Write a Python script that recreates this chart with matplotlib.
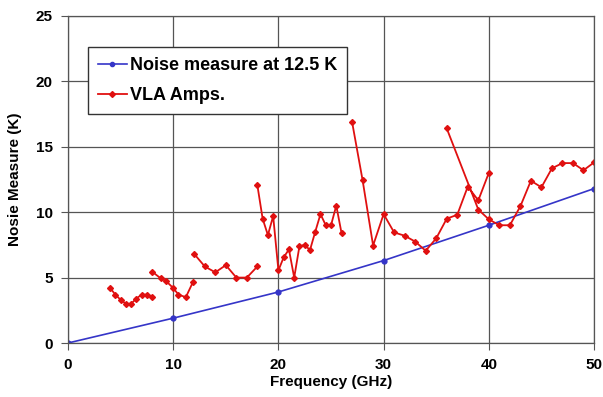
import matplotlib
matplotlib.use("Agg")
import matplotlib.pyplot as plt
import numpy as np

plt.rcParams['font.family'] = ['Liberation Sans', 'DejaVu Sans']
plt.rcParams['font.weight'] = 'bold'

# noise measure at 12.5 K
f_noise = [0, 10, 20, 30, 40, 50]
t_noise = [0, 1.9, 3.9, 6.3, 9.0, 11.8]

# VLA amplifiers, one list per band (gaps between bands)
f_bands = [
    [4.0, 4.5, 5.0, 5.5, 6.0, 6.5, 7.0, 7.5, 8.0],
    [8.0, 8.8, 9.3, 10.0, 10.5, 11.2, 11.9],
    [12.0, 13.0, 14.0, 15.0, 16.0, 17.0, 18.0],
    [18.0, 18.5, 19.0, 19.5, 20.0, 20.5, 21.0, 21.5, 22.0, 22.5, 23.0, 23.5,
     24.0, 24.5, 25.0, 25.5, 26.0],
    [27.0, 28.0, 29.0, 30.0, 31.0, 32.0, 33.0, 34.0, 35.0, 36.0, 37.0, 38.0,
     39.0, 40.0],
    [36.0, 39.0, 40.0, 41.0, 42.0, 43.0, 44.0, 45.0, 46.0, 47.0, 48.0, 49.0, 50.0],
]
t_bands = [
    [4.2, 3.7, 3.3, 3.0, 3.0, 3.4, 3.7, 3.7, 3.55],
    [5.45, 4.95, 4.75, 4.2, 3.7, 3.5, 4.7],
    [6.8, 5.85, 5.4, 5.95, 5.0, 5.0, 5.85],
    [12.05, 9.5, 8.25, 9.7, 5.55, 6.55, 7.15, 5.0, 7.4, 7.5, 7.1, 8.5,
     9.85, 9.0, 9.0, 10.5, 8.4],
    [16.9, 12.45, 7.45, 9.85, 8.45, 8.2, 7.75, 7.05, 8.0, 9.5, 9.8, 11.95,
     10.9, 13.0],
    [16.4, 10.2, 9.45, 9.0, 9.0, 10.45, 12.4, 11.9, 13.35, 13.75, 13.75, 13.2, 13.8],
]

f_vla = []
t_vla = []
for fb, tb in zip(f_bands, t_bands):
    f_vla += fb + [np.nan]
    t_vla += tb + [np.nan]

fig = plt.figure(figsize=(6.03, 3.97), dpi=100)
ax = fig.add_axes([0.1128, 0.136, 0.8723, 0.824])

ax.plot(f_noise, t_noise, color='#3535c8', lw=1.2, marker='o', ms=3.5,
        label='Noise measure at 12.5 K')
ax.plot(f_vla, t_vla, color='#e01010', lw=1.3, marker='D', ms=3.0,
        label='VLA Amps.')

ax.set_xlim(0, 50)
ax.set_ylim(0, 25)
ax.set_xticks(range(0, 51, 10))
ax.set_yticks(range(0, 26, 5))
ax.grid(True, color='#555555', lw=0.9)
for s in ax.spines.values():
    s.set_color('#555555')
    s.set_linewidth(0.9)
ax.tick_params(direction='out', length=5, color='#555555', labelsize=11, pad=6)
ax.set_xlabel('Frequency (GHz)', fontsize=11, fontweight='bold', labelpad=2)
ax.set_ylabel('Nosie Measure (K)', fontsize=11, fontweight='bold', labelpad=10)

leg = ax.legend(loc='upper left', bbox_to_anchor=(0.038, 0.905), fancybox=False,
                edgecolor='#333333', framealpha=1, fontsize=13,
                handlelength=1.6, handletextpad=0.15, borderpad=0.55,
                borderaxespad=0, labelspacing=0.75)
leg.get_frame().set_linewidth(1.0)
for h in leg.get_lines():
    h.set_markersize(3)

fig.savefig('out.png', dpi=100)
